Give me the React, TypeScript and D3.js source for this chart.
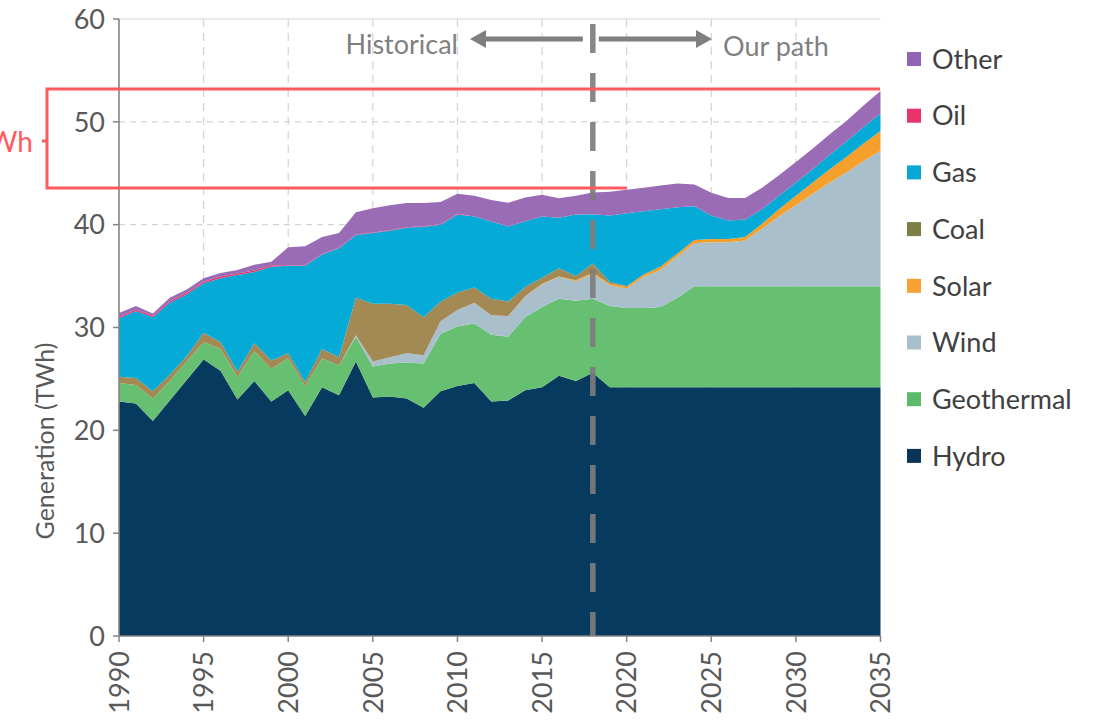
import React from 'react';
import * as d3 from 'd3';

const years = [1990, 1991, 1992, 1993, 1994, 1995, 1996, 1997, 1998, 1999, 2000, 2001, 2002, 2003, 2004, 2005, 2006, 2007, 2008, 2009, 2010, 2011, 2012, 2013, 2014, 2015, 2016, 2017, 2018, 2019, 2020, 2021, 2022, 2023, 2024, 2025, 2026, 2027, 2028, 2029, 2030, 2031, 2032, 2033, 2034, 2035];

const hydro = [22.8, 22.6, 20.9, 22.9, 24.9, 26.9, 25.8, 23.0, 24.8, 22.8, 23.9, 21.4, 24.2, 23.4, 26.7, 23.2, 23.3, 23.1, 22.2, 23.8, 24.3, 24.6, 22.8, 22.9, 23.9, 24.2, 25.3, 24.8, 25.6, 24.2, 24.2, 24.2, 24.2, 24.2, 24.2, 24.2, 24.2, 24.2, 24.2, 24.2, 24.2, 24.2, 24.2, 24.2, 24.2, 24.2];
const geothermal = [1.8, 1.8, 2.2, 1.9, 1.8, 1.7, 2.1, 2.2, 2.9, 3.2, 3.1, 2.9, 2.8, 2.9, 2.4, 3.0, 3.2, 3.5, 4.3, 5.6, 5.8, 5.8, 6.5, 6.2, 7.1, 7.8, 7.5, 7.8, 7.2, 7.9, 7.7, 7.7, 7.8, 8.7, 9.8, 9.8, 9.8, 9.8, 9.8, 9.8, 9.8, 9.8, 9.8, 9.8, 9.8, 9.8];
const wind = [0, 0, 0, 0, 0, 0, 0, 0, 0, 0, 0, 0, 0, 0, 0.15, 0.5, 0.6, 0.9, 0.8, 1.2, 1.6, 2.0, 1.9, 2.0, 2.0, 2.2, 2.1, 1.9, 2.4, 2.0, 1.9, 3.0, 3.6, 4.0, 4.2, 4.3, 4.3, 4.45, 5.6, 6.8, 7.9, 9.0, 10.1, 11.1, 12.2, 13.2];
const solar = [0, 0, 0, 0, 0, 0, 0, 0, 0, 0, 0, 0, 0, 0, 0, 0, 0, 0, 0, 0, 0, 0, 0, 0.02, 0.03, 0.05, 0.07, 0.1, 0.12, 0.15, 0.2, 0.25, 0.3, 0.3, 0.3, 0.3, 0.3, 0.35, 0.5, 0.7, 0.9, 1.1, 1.3, 1.5, 1.7, 1.9];
const coal = [0.6, 0.7, 0.7, 0.6, 0.5, 0.9, 0.7, 0.5, 0.8, 0.8, 0.5, 0.4, 0.9, 0.8, 3.65, 5.6, 5.2, 4.7, 3.7, 1.9, 1.7, 1.5, 1.6, 1.4, 0.9, 0.6, 0.8, 0.4, 0.9, 0.2, 0, 0, 0, 0, 0, 0, 0, 0, 0, 0, 0, 0, 0, 0, 0, 0];
const gas = [5.7, 6.5, 7.2, 7.0, 6.0, 4.8, 6.2, 9.4, 6.9, 9.1, 8.5, 11.3, 9.2, 10.6, 6.1, 6.9, 7.1, 7.5, 8.8, 7.5, 7.6, 6.9, 7.5, 7.3, 6.4, 5.95, 4.9, 6.0, 4.8, 6.45, 7.1, 6.15, 5.6, 4.5, 3.3, 2.3, 1.8, 1.7, 1.4, 1.3, 1.3, 1.3, 1.4, 1.5, 1.6, 1.7];
const oil = [0.15, 0.15, 0.15, 0.15, 0.15, 0.15, 0.15, 0.15, 0.15, 0.15, 0.05, 0.05, 0.05, 0.05, 0.05, 0.05, 0.05, 0.05, 0.05, 0.05, 0.05, 0, 0, 0, 0, 0, 0, 0, 0, 0, 0, 0, 0, 0, 0, 0, 0, 0, 0, 0, 0, 0, 0, 0, 0, 0];
const other = [0.35, 0.35, 0.2, 0.35, 0.35, 0.35, 0.35, 0.35, 0.55, 0.35, 1.75, 1.85, 1.65, 1.45, 2.15, 2.35, 2.45, 2.35, 2.25, 2.15, 1.95, 2.0, 2.1, 2.3, 2.3, 2.1, 1.9, 1.8, 2.1, 2.3, 2.3, 2.3, 2.3, 2.3, 2.1, 2.2, 2.2, 2.1, 2.1, 2.0, 2.0, 2.0, 2.0, 2.0, 2.1, 2.2];

const seriesKeys = ['Hydro', 'Geothermal', 'Wind', 'Solar', 'Coal', 'Gas', 'Oil', 'Other'];
const seriesValues: Record<string, number[]> = {
  Hydro: hydro, Geothermal: geothermal, Wind: wind, Solar: solar,
  Coal: coal, Gas: gas, Oil: oil, Other: other,
};
const legendOrder = ['Other', 'Oil', 'Gas', 'Coal', 'Solar', 'Wind', 'Geothermal', 'Hydro'];
const areaColors: Record<string, string> = {
  Hydro: '#063a5f', Geothermal: '#67bf72', Wind: '#a9c0cc', Solar: '#f5a02c',
  Coal: '#a38a55', Gas: '#05aad6', Oil: '#e8336b', Other: '#9b6cb6',
};
const legendColors: Record<string, string> = {
  Hydro: '#0b3556', Geothermal: '#5dba69', Wind: '#a9c0cc', Solar: '#f7a033',
  Coal: '#7f7f45', Gas: '#0aa6d6', Oil: '#e8336b', Other: '#9063b6',
};
const yTicks = [0, 10, 20, 30, 40, 50, 60];
const xTicks = [1990, 1995, 2000, 2005, 2010, 2015, 2020, 2025, 2030, 2035];
const splitYear = 2018;

const FONT = 'Lato, "Open Sans", sans-serif';

export default function App() {
  const W = 1107, H = 727;
  const x = d3.scaleLinear().domain([1990, 2035]).range([119, 880.5]);
  const y = d3.scaleLinear().domain([0, 60]).range([636, 19]);

  const rows = years.map((yr, i) => {
    const r: any = { year: yr };
    seriesKeys.forEach(k => { r[k] = seriesValues[k][i]; });
    return r;
  });
  const stacked = d3.stack<any>().keys(seriesKeys)(rows);
  const area = d3.area<any>()
    .x(d => x(d.data.year))
    .y0(d => y(d[0]))
    .y1(d => y(d[1]))
    .curve(d3.curveLinear);

  const xs = x(splitYear);
  const gridColor = '#d4d4d4';
  const axisColor = '#858585';

  return (
    <svg width={W} height={H} style={{ position: 'absolute', left: 0, top: 0, background: '#fff' }}
      fontFamily={FONT}>
      {/* gridlines */}
      {yTicks.filter(t => t > 0).map(t => (
        <line key={'gy' + t} x1={x(1990)} x2={x(2035)} y1={y(t)} y2={y(t)}
          stroke={gridColor} strokeWidth={1.2} strokeDasharray={t === 60 ? undefined : '6 5'} />
      ))}
      {xTicks.filter(t => t > 1990 && t < 2035).map(t => (
        <line key={'gx' + t} x1={x(t)} x2={x(t)} y1={y(60)} y2={y(0)}
          stroke={gridColor} strokeWidth={1.2} strokeDasharray="8 6" />
      ))}

      {/* stacked areas */}
      {stacked.map(s => (
        <path key={s.key} d={area(s) || ''} fill={areaColors[s.key]} stroke="none" />
      ))}

      {/* axes */}
      <line x1={x(1990)} x2={x(1990)} y1={y(60)} y2={y(0)} stroke={axisColor} strokeWidth={1.6} />
      <line x1={x(1990)} x2={x(2035)} y1={y(0)} y2={y(0)} stroke={axisColor} strokeWidth={1.6} />
      {yTicks.map(t => (
        <g key={'yt' + t}>
          <line x1={x(1990) - 6} x2={x(1990)} y1={y(t)} y2={y(t)} stroke={axisColor} strokeWidth={1.5} />
          <text x={105} y={y(t)} dy="0.36em" textAnchor="end" fontSize={27} fill="#595959">{t}</text>
        </g>
      ))}
      {xTicks.map(t => (
        <g key={'xt' + t}>
          <line x1={x(t)} x2={x(t)} y1={y(0)} y2={y(0) + 6} stroke={axisColor} strokeWidth={1.5} />
          <text transform={`translate(${x(t)},${y(0) + 15}) rotate(-90)`} dy="0.36em"
            textAnchor="end" fontSize={27} fill="#595959">{t}</text>
        </g>
      ))}
      <text transform={`translate(45,441) rotate(-90)`} dy="0.36em" textAnchor="middle"
        fontSize={25} fill="#595959">Generation (TWh)</text>

      {/* split line */}
      <line x1={xs} x2={xs} y1={24} y2={y(0)} stroke="#7d7d7d" strokeOpacity={0.92}
        strokeWidth={5.5} strokeDasharray="29 20" />

      {/* arrows */}
      <line x1={xs - 10} x2={484} y1={39} y2={39} stroke="#7f7f7f" strokeWidth={5} />
      <polygon points="470,39 486,30 486,48" fill="#7f7f7f" />
      <line x1={xs + 6} x2={698} y1={39} y2={39} stroke="#7f7f7f" strokeWidth={5} />
      <polygon points="712,39 696,30 696,48" fill="#7f7f7f" />
      <text x={458} y={46} dy="0.3em" textAnchor="end" fontSize={27} fill="#7f7f7f">Historical</text>
      <text x={723} y={48} dy="0.3em" textAnchor="start" fontSize={27} fill="#7f7f7f">Our path</text>

      {/* legend */}
      {legendOrder.map((k, i) => {
        const cy = 59 + i * 56.7;
        return (
          <g key={'lg' + k}>
            <rect x={907} y={cy - 7} width={14} height={14} fill={legendColors[k]} />
            <text x={932} y={cy} dy="0.36em" fontSize={27} fill="#404040">{k}</text>
          </g>
        );
      })}

      {/* red annotation (label partly outside the frame, as in the reference) */}
      <path d="M880,89 H47 V188 H627" fill="none" stroke="#ff5a5f" strokeWidth={3} />
      <line x1={42} x2={47} y1={141} y2={141} stroke="#ff5a5f" strokeWidth={3} />
      <text x={33} y={142} dy="0.36em" textAnchor="end" fontSize={28} fill="#ff5a5f">TWh</text>
    </svg>
  );
}
